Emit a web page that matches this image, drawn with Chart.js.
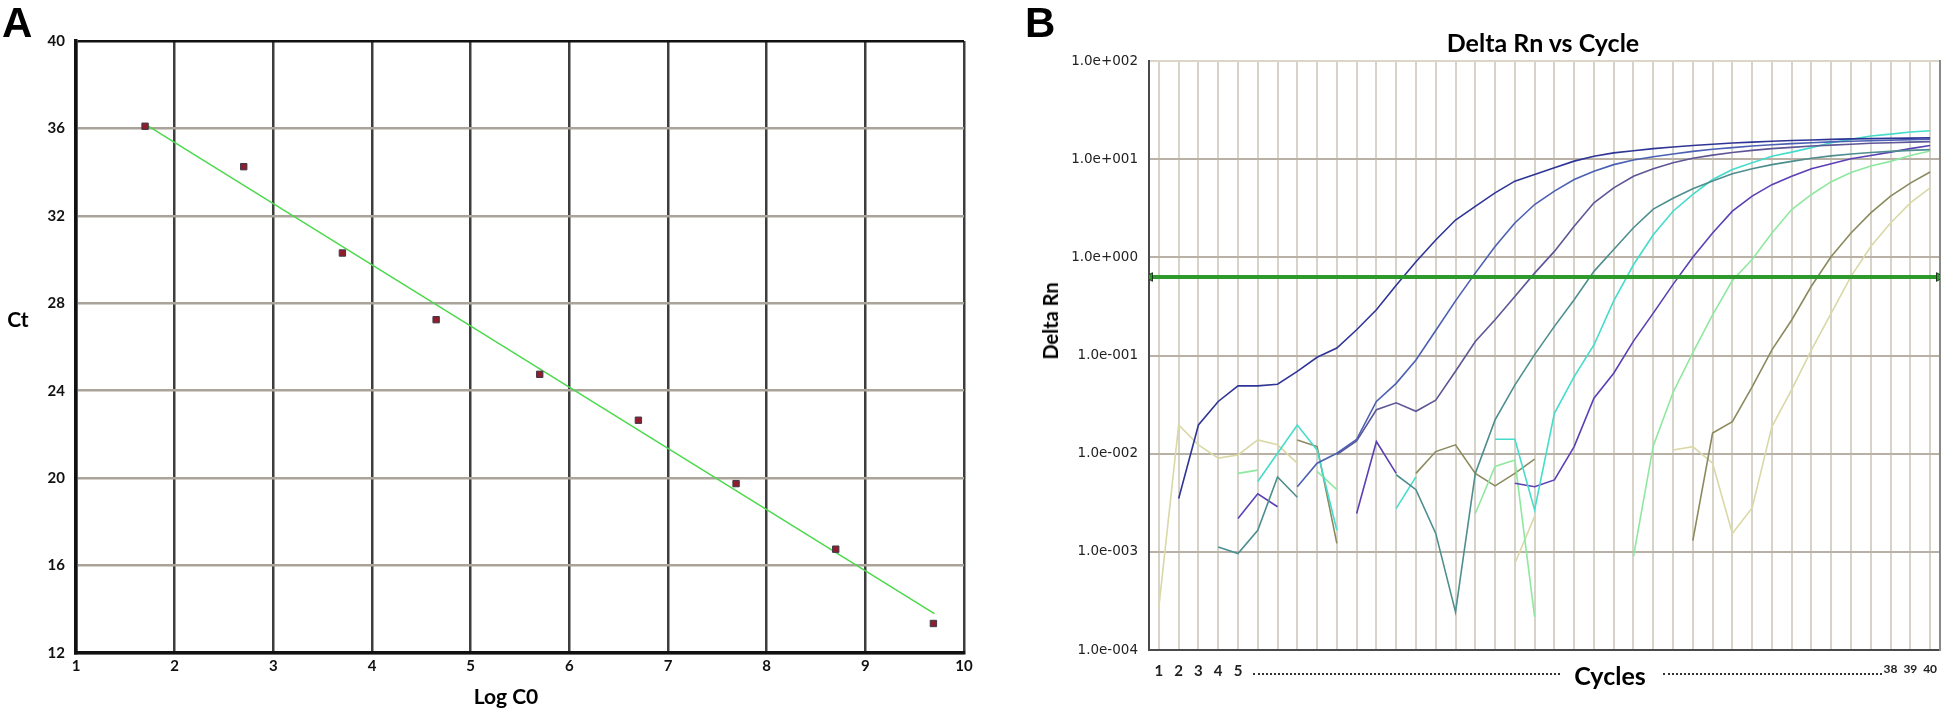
<!DOCTYPE html>
<html>
<head>
<meta charset="utf-8">
<script src="https://cdn.jsdelivr.net/npm/chart.js@4.4.0/dist/chart.umd.min.js"></script>
<style>
  body { margin: 0; width: 1946px; height: 709px; background: #fff; position: relative; overflow: hidden; font-family: Lato, sans-serif; }
  canvas { position: absolute; top: 0; }
  #chartA { left: 0; }
  #chartB { left: 975px; }
  .lbl { position: absolute; color: #000; font-weight: bold; white-space: nowrap; line-height: 1; }
  .panel { font-family: "Liberation Sans", Arial, sans-serif; font-size: 42px; line-height: 42px; top: 2px; }
  .mid { transform: translate(-50%, -50%); }
  .dots { position: absolute; top: 673px; height: 0; border-top: 2px dotted #333; }
</style>
</head>
<body>
<canvas id="chartA" width="975" height="709"></canvas>
<canvas id="chartB" width="971" height="709"></canvas>

<div class="lbl panel" style="left:2px;">A</div>
<div class="lbl panel" style="left:1025px;">B</div>
<div class="lbl mid" style="left:18px; top:318px; font-size:21px;">Ct</div>
<div class="lbl mid" style="left:506px; top:695px; font-size:21px;">Log C0</div>
<div class="lbl mid" style="left:1543px; top:42px; font-size:25px;">Delta Rn vs Cycle</div>
<div class="lbl" style="left:1050px; top:321px; font-size:20px; transform: translate(-50%, -50%) rotate(-90deg);">Delta Rn</div>
<div class="dots" style="left:1253px; width:307px;"></div>
<div class="lbl mid" style="left:1610px; top:675px; font-size:25px;">Cycles</div>
<div class="dots" style="left:1663px; width:219px;"></div>

<script>
// Panel A - standard curve
const logC0 = [1.70, 2.70, 3.70, 4.65, 5.70, 6.70, 7.69, 8.70, 9.69];
const ctValues = [36.1, 34.25, 30.3, 27.25, 24.75, 22.65, 19.75, 16.75, 13.35];
const fitX = [1.7, 9.7];
const fitY = [36.2, 13.8];
const logTicks = [1, 2, 3, 4, 5, 6, 7, 8, 9, 10];
const ctTicks = [12, 16, 20, 24, 28, 32, 36, 40];

// Panel B - amplification plot (null = no value on log scale)
const cycles = [1, 2, 3, 4, 5, 6, 7, 8, 9, 10, 11, 12, 13, 14, 15, 16, 17, 18, 19, 20,
  21, 22, 23, 24, 25, 26, 27, 28, 29, 30, 31, 32, 33, 34, 35, 36, 37, 38, 39, 40];
const rn1 = [null, 0.0035, 0.0196, 0.034, 0.049, 0.049, 0.051, 0.069, 0.096, 0.119,
  0.183, 0.292, 0.52, 0.9, 1.5, 2.4, 3.31, 4.54, 5.97, 6.98,
  8.17, 9.55, 10.7, 11.6, 12.2, 12.8, 13.3, 13.8, 14.2, 14.6,
  14.9, 15.2, 15.5, 15.7, 15.9, 16.1, 16.2, 16.3, 16.4, 16.5];
const rn2 = [null, null, null, null, null, null, null, 0.0046, 0.008, 0.0101,
  0.014, 0.034, 0.052, 0.09, 0.18, 0.36, 0.69, 1.29, 2.24, 3.45,
  4.72, 6.2, 7.55, 8.8, 9.8, 10.6, 11.3, 12, 12.6, 13.1,
  13.6, 14, 14.4, 14.7, 15, 15.2, 15.4, 15.6, 15.8, 16];
const rn3 = [null, null, null, null, null, null, null, null, null, 0.0098,
  0.0135, 0.028, 0.033, 0.027, 0.035, 0.069, 0.139, 0.231, 0.40, 0.69,
  1.15, 2.07, 3.59, 5.1, 6.7, 8.0, 9.2, 10.2, 11, 11.7,
  12.3, 12.8, 13.2, 13.6, 13.9, 14.2, 14.5, 14.7, 14.9, 15.1];
const rn4 = [null, null, null, 0.00112, 0.00096, 0.00166, 0.0058, 0.0036, null, null,
  null, null, 0.0061, 0.0043, 0.00154, 0.000244, 0.0063, 0.0221, 0.05, 0.102,
  0.198, 0.37, 0.72, 1.2, 2.0, 3.1, 4.0, 5.0, 6.0, 7.1,
  8.0, 8.8, 9.5, 10.2, 10.8, 11.3, 11.7, 12.0, 12.3, 12.5];
const rn5 = [null, null, null, null, null, 0.0052, 0.0101, 0.0196, 0.0109, 0.00166,
  null, null, 0.00277, 0.0058, null, null, null, 0.014, 0.014, 0.00267,
  0.0258, 0.061, 0.128, 0.36, 0.84, 1.7, 2.95, 4.37, 6.2, 7.85,
  9.2, 10.7, 11.8, 13.1, 14.7, 15.9, 17.2, 18.0, 18.9, 19.5];
const rn6 = [null, null, null, null, 0.00219, 0.0039, 0.00288, null, null, null,
  0.00246, 0.0133, 0.0063, null, null, null, null, null, 0.005, 0.0046,
  0.0054, 0.0118, 0.0367, 0.066, 0.14, 0.27, 0.53, 1.0, 1.77, 2.95,
  4.2, 5.5, 6.7, 8.0, 9.0, 10.1, 10.9, 11.8, 12.8, 13.8];
const rn7 = [null, null, null, null, 0.0063, 0.0068, null, null, 0.0066, 0.0043,
  null, null, null, null, null, null, 0.00246, 0.0074, 0.0086, 0.000217,
  null, null, null, null, 0.0009, 0.012, 0.042, 0.107, 0.26, 0.58,
  0.95, 1.77, 3.07, 4.37, 5.9, 7.3, 8.5, 9.5, 10.9, 12.1];
const rn8 = [null, null, null, null, null, null, null, 0.0138, 0.0118, 0.00122,
  null, null, null, 0.0063, 0.0105, 0.0123, 0.0063, 0.0047, 0.0063, 0.0088,
  null, null, null, null, null, null, null, 0.0013, 0.0162, 0.0212,
  0.048, 0.114, 0.23, 0.51, 1.02, 1.77, 2.84, 4.2, 5.7, 7.4];
const rn9 = [0.000275, 0.0196, 0.0123, 0.009, 0.0097, 0.0138, 0.0123, 0.008, null, null,
  null, null, null, null, null, null, null, null, 0.00076, 0.0023,
  null, null, null, null, null, null, 0.0109, 0.0118, 0.008, 0.00154,
  0.0028, 0.0189, 0.045, 0.114, 0.27, 0.64, 1.29, 2.24, 3.59, 5.1];
const threshold = 0.63;
const rnTicks = [0.0001, 0.001, 0.01, 0.1, 1, 10, 100];
const cycleLabels = [1, 2, 3, 4, 5, 38, 39, 40];

const curveColors = ['#2f3596', '#4b60b3', '#5e5696', '#4e8e8e', '#45dccb',
  '#5b3fb5', '#8fe89f', '#8b8a5e', '#d9d8a6'];
const curves = [rn1, rn2, rn3, rn4, rn5, rn6, rn7, rn8, rn9];

Chart.defaults.font.family = 'Lato';

function noPad(s) {
    s.paddingLeft = 0; s.paddingRight = 0; s.paddingTop = 0; s.paddingBottom = 0;
}

function sciLabel(v) {
    const e = Math.round(Math.log10(v));
    return '1.0e' + (e < 0 ? '-' : '+') + String(Math.abs(e)).padStart(3, '0');
}

// --- Panel A ---
new Chart(document.getElementById('chartA'), {
    type: 'scatter',
    data: {
        datasets: [{
            data: logC0.map((x, i) => ({x: x, y: ctValues[i]})),
            pointStyle: 'rect',
            pointRadius: 4.5,
            backgroundColor: '#901c2c',
            borderColor: '#3a3a4a',
            borderWidth: 1
        }, {
            type: 'line',
            data: fitX.map((x, i) => ({x: x, y: fitY[i]})),
            borderColor: '#4cd94c',
            borderWidth: 1.5,
            pointRadius: 0
        }]
    },
    options: {
        responsive: false,
        animation: false,
        layout: {padding: {top: 41, right: 11, left: 0, bottom: 0}},
        plugins: {legend: {display: false}, tooltip: {enabled: false}},
        scales: {
            x: {
                type: 'linear', min: 1, max: 10,
                afterBuildTicks: s => { s.ticks = logTicks.map(v => ({value: v})); },
                afterFit: s => { s.height = 56; noPad(s); },
                grid: {color: '#3d3d3d', lineWidth: 2.5, drawTicks: false},
                border: {color: '#111', width: 3.5},
                ticks: {padding: 4, color: '#111', maxRotation: 0, autoSkip: false,
                    font: {weight: 'bold', size: 15}}
            },
            y: {
                min: 12, max: 40,
                afterBuildTicks: s => { s.ticks = ctTicks.map(v => ({value: v})); },
                afterFit: s => { s.width = 76; noPad(s); },
                grid: {color: c => c.tick && c.tick.value === 40 ? '#111' : '#a9a399', lineWidth: 2.5, drawTicks: false},
                border: {color: '#111', width: 3.5},
                ticks: {padding: 11, color: '#111', autoSkip: false, font: {weight: 'bold', size: 15}}
            }
        }
    }
});

// --- Panel B ---
const bDatasets = [{
    data: [{x: 0.55, y: threshold}, {x: 40.45, y: threshold}],
    borderColor: '#2e9a2e',
    borderWidth: 4,
    pointStyle: 'triangle',
    pointRadius: 5,
    pointRotation: [-90, 90],
    pointBackgroundColor: '#2e9a2e',
    pointBorderColor: '#1e3a1e',
    pointBorderWidth: 1
}];
curves.forEach((vals, k) => {
    bDatasets.push({
        data: cycles.map((c, i) => ({x: c, y: vals[i]})),
        borderColor: curveColors[k],
        borderWidth: 1.6,
        pointRadius: 0,
        spanGaps: false,
        tension: 0
    });
});

new Chart(document.getElementById('chartB'), {
    type: 'line',
    data: {datasets: bDatasets},
    options: {
        responsive: false,
        animation: false,
        layout: {padding: {top: 61, right: 4, left: 0, bottom: 0}},
        plugins: {legend: {display: false}, tooltip: {enabled: false}},
        scales: {
            x: {
                type: 'linear', min: 0.5, max: 40.5,
                afterBuildTicks: s => { s.ticks = cycles.map(v => ({value: v})); },
                afterFit: s => { s.height = 59; noPad(s); },
                grid: {color: '#d8d3c8', lineWidth: 2, drawTicks: false},
                border: {color: '#4a4a4a', width: 2},
                ticks: {
                    padding: 12, color: '#222', maxRotation: 0, autoSkip: false,
                    callback: v => cycleLabels.includes(v) ? String(v) : '',
                    font: c => c.tick && c.tick.value > 30 ? {size: 12, weight: 'bold'} : {size: 15, weight: 'bold'}
                }
            },
            y: {
                type: 'logarithmic', min: 0.0001, max: 100,
                afterBuildTicks: s => { s.ticks = rnTicks.map(v => ({value: v})); },
                afterFit: s => { s.width = 174; noPad(s); },
                grid: {color: c => c.tick && c.tick.value === 100 ? '#dcd6ca' : '#b9b1a5', lineWidth: 2, drawTicks: false},
                border: {color: '#4a4a4a', width: 2},
                ticks: {padding: 11, color: '#222', autoSkip: false, callback: v => sciLabel(v),
                    font: {family: 'DejaVu Sans', size: 13.5}}
            },
            y2: {
                type: 'linear', position: 'right',
                grid: {display: false, drawTicks: false},
                ticks: {display: false},
                border: {color: '#8a8a8a', width: 2},
                afterFit: s => { s.width = 0; noPad(s); }
            }
        }
    }
});
</script>
</body>
</html>
